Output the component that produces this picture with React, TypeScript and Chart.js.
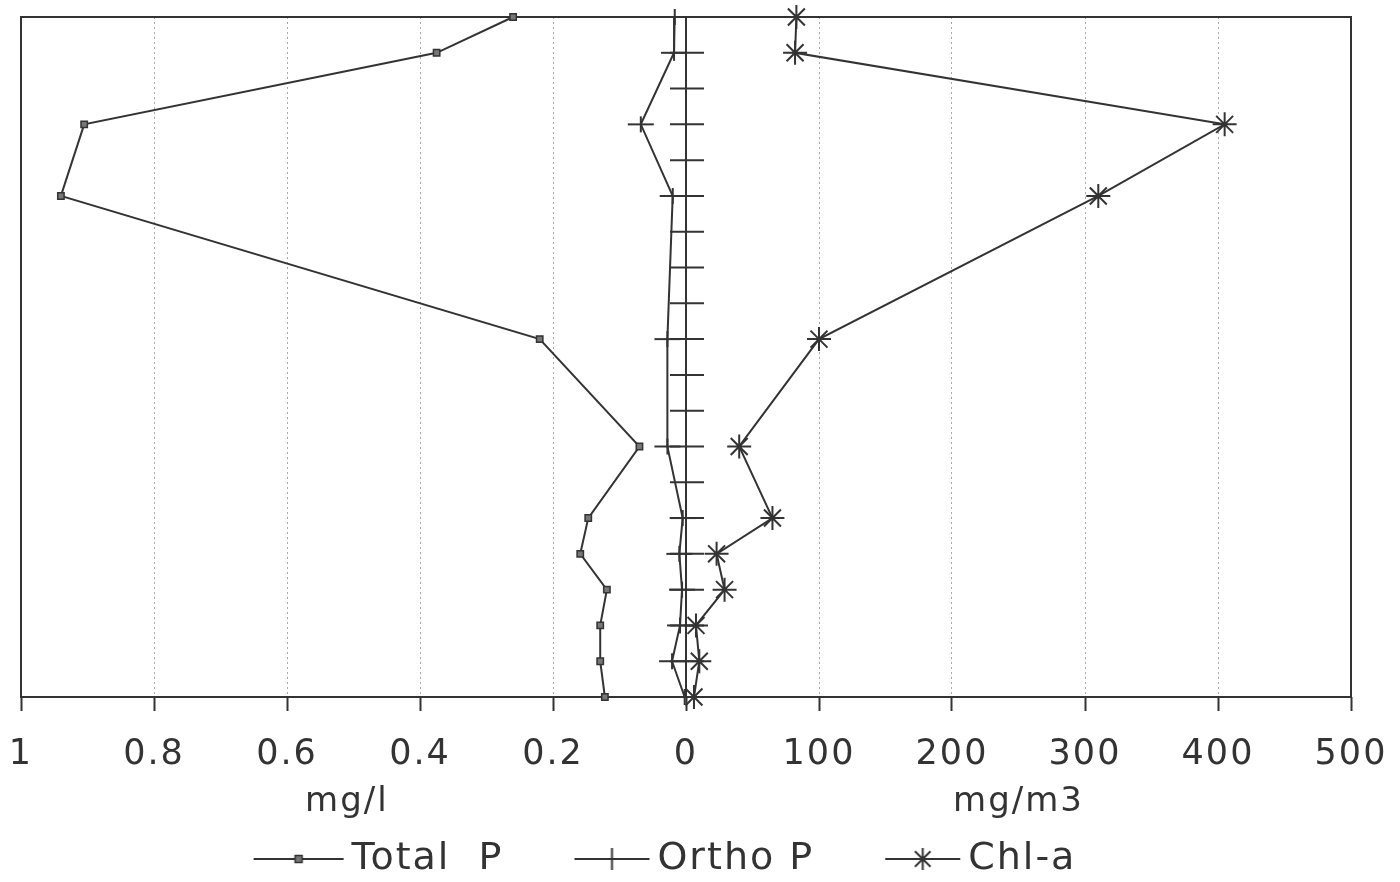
import React, { useEffect, useRef } from 'react';
import { Chart, registerables } from 'chart.js';

Chart.register(...registerables);

// ---- data (depth levels top -> bottom) ----
const depthLevels = [0, 1, 3, 5, 9, 12, 14, 15, 16, 17, 18, 19];
const totalP = [0.26, 0.375, 0.905, 0.94, 0.22, 0.07, 0.147, 0.159, 0.119, 0.129, 0.129, 0.122]; // mg/l
const orthoP = [0.017, 0.018, 0.068, 0.02, 0.028, 0.028, 0.005, 0.01, 0.006, 0.009, 0.021, 0.002]; // mg/l
const chlA = [83, 82, 405, 310, 100, 40, 65, 23, 29, 7.5, 10, 6]; // mg/m3

const axisLevels = [0, 1, 2, 3, 4, 5, 6, 7, 8, 9, 10, 11, 12, 13, 14, 15, 16, 17, 18, 19];
const xTickValues = [-500, -400, -300, -200, -100, 0, 100, 200, 300, 400, 500];
const xTickLabels = ['1', '0.8', '0.6', '0.4', '0.2', '0', '100', '200', '300', '400', '500'];
const unitTickValues = [-255, 250];
const unitLabels = ['mg/l', 'mg/m3'];
const seriesNames = ['Total  P', 'Ortho P', 'Chl-a'];
// left half of the shared axis: 1 mg/l corresponds to 500 axis units (drawn to the left)
const MG_L_TO_AXIS = 500;

const INK = '#333333';
const GRID = '#a8a8a8';
const FONT = '"DejaVu Sans", "Liberation Sans", sans-serif';

function makeIcon(w: number, h: number, draw: (g: CanvasRenderingContext2D) => void) {
  const c = document.createElement('canvas');
  c.width = w;
  c.height = h;
  const g = c.getContext('2d')!;
  g.strokeStyle = INK;
  g.fillStyle = '#777';
  g.lineWidth = 2;
  draw(g);
  return c;
}

export default function App() {
  const ref = useRef<HTMLCanvasElement>(null);

  useEffect(() => {
    document.body.style.margin = '0';
    const canvas = ref.current;
    if (!canvas) return;

    const orthoMarker = makeIcon(28, 18, (g) => {
      g.beginPath();
      g.moveTo(1, 9);
      g.lineTo(27, 9);
      g.moveTo(14, 1);
      g.lineTo(14, 17);
      g.stroke();
    });

    // legend icons: box width IW, image slightly wider so the line reaches close to the text
    const IW = 85;
    const OV = 12;
    const W = IW + 2 * OV;
    const IH = 30;
    const END = 108;
    const seg = (g: CanvasRenderingContext2D, start: number) => {
      g.beginPath();
      g.moveTo(start, IH / 2);
      g.lineTo(END, IH / 2);
      g.stroke();
      return (start + END) / 2;
    };
    const legendIcons = [
      makeIcon(W, IH, (g) => {
        const c = seg(g, 18);
        g.lineWidth = 1.5;
        g.fillRect(c - 3.5, IH / 2 - 3.5, 7, 7);
        g.strokeRect(c - 3.5, IH / 2 - 3.5, 7, 7);
      }),
      makeIcon(W, IH, (g) => {
        const c = seg(g, 33);
        g.beginPath();
        g.moveTo(c, 4);
        g.lineTo(c, IH - 4);
        g.stroke();
      }),
      makeIcon(W, IH, (g) => {
        const c = seg(g, 33);
        const r = 11;
        g.beginPath();
        for (let k = 0; k < 4; k++) {
          const a = (k * Math.PI) / 4;
          g.moveTo(c - r * Math.cos(a), IH / 2 - r * Math.sin(a));
          g.lineTo(c + r * Math.cos(a), IH / 2 + r * Math.sin(a));
        }
        g.stroke();
      }),
    ];

    const spacingPlugin = {
      id: 'letterSpacing',
      beforeUpdate(chart: any) {
        (chart.ctx as any).letterSpacing = '2px';
      },
      beforeDraw(chart: any) {
        (chart.ctx as any).letterSpacing = '2px';
      },
    };

    const framePlugin = {
      id: 'profileFrame',
      beforeDatasetsDraw(chart: any) {
        const { ctx, chartArea: a, scales } = chart;
        const x0 = scales.x.getPixelForValue(0);
        ctx.save();
        ctx.strokeStyle = INK;
        ctx.lineWidth = 2;
        ctx.strokeRect(a.left, a.top, a.right - a.left, a.bottom - a.top);
        ctx.beginPath();
        ctx.moveTo(x0, a.top);
        ctx.lineTo(x0, a.bottom);
        axisLevels.forEach((l) => {
          const y = scales.y.getPixelForValue(l);
          ctx.moveTo(x0 - 16, y);
          ctx.lineTo(x0 + 18, y);
        });
        ctx.stroke();
        ctx.restore();
      },
    };

    const isEdgeOrZero = (v: number) => v === -500 || v === 500 || v === 0;

    const chart = new Chart(canvas, {
      type: 'line',
      data: {
        datasets: [
          {
            label: seriesNames[0],
            data: depthLevels.map((d, i) => ({ x: -totalP[i] * MG_L_TO_AXIS, y: d })),
            borderColor: INK,
            borderWidth: 2,
            pointStyle: 'rect',
            pointRadius: 4.5,
            pointBackgroundColor: '#777',
            pointBorderColor: INK,
            pointBorderWidth: 1.5,
            tension: 0,
            fill: false,
            clip: false,
          },
          {
            label: seriesNames[1],
            data: depthLevels.map((d, i) => ({ x: -orthoP[i] * MG_L_TO_AXIS, y: d })),
            borderColor: INK,
            borderWidth: 2,
            pointStyle: orthoMarker as any,
            pointRadius: 9,
            tension: 0,
            fill: false,
            clip: false,
          },
          {
            label: seriesNames[2],
            data: depthLevels.map((d, i) => ({ x: chlA[i], y: d })),
            borderColor: INK,
            borderWidth: 2,
            pointStyle: 'star',
            pointRadius: 12,
            pointBorderColor: INK,
            pointBorderWidth: 2,
            tension: 0,
            fill: false,
            clip: false,
          },
        ] as any,
      },
      options: {
        animation: false,
        responsive: true,
        maintainAspectRatio: false,
        layout: { padding: { left: -27, right: 49, top: 17, bottom: -6 } },
        plugins: {
          tooltip: { enabled: false },
          legend: {
            position: 'bottom',
            labels: {
              usePointStyle: true,
              pointStyleWidth: IW,
              padding: 50,
              color: INK,
              font: { family: FONT, size: 38 },
              generateLabels: () =>
                seriesNames.map((t, i) => ({
                  text: t,
                  pointStyle: legendIcons[i] as any,
                  fillStyle: 'rgba(0,0,0,0)',
                  strokeStyle: 'rgba(0,0,0,0)',
                  lineWidth: 0,
                  hidden: false,
                  datasetIndex: i,
                  fontColor: INK,
                })),
            },
          },
        },
        scales: {
          x: {
            type: 'linear',
            position: 'bottom',
            min: -500,
            max: 500,
            weight: 0,
            afterBuildTicks: (s: any) => {
              s.ticks = xTickValues.map((v) => ({ value: v }));
            },
            afterFit: (s: any) => {
              s.height = 55;
            },
            ticks: {
              autoSkip: false,
              maxRotation: 0,
              mirror: true,
              padding: -79,
              color: INK,
              font: { family: FONT, size: 35 },
              callback: (v: any) => xTickLabels[xTickValues.indexOf(Number(v))],
            },
            grid: {
              color: (c: any) => (c.tick && isEdgeOrZero(c.tick.value) ? 'rgba(0,0,0,0)' : GRID),
              lineWidth: 1,
              tickLength: 14,
              tickColor: INK,
              tickWidth: 2,
            },
            border: { display: false, dash: [2, 3] },
          },
          xUnits: {
            type: 'linear',
            axis: 'x',
            position: 'bottom',
            min: -500,
            max: 500,
            weight: 1,
            afterBuildTicks: (s: any) => {
              s.ticks = unitTickValues.map((v) => ({ value: v }));
            },
            afterFit: (s: any) => {
              s.height = 38;
            },
            ticks: {
              autoSkip: false,
              maxRotation: 0,
              mirror: true,
              padding: -71,
              color: INK,
              font: { family: FONT, size: 34 },
              callback: (v: any) => unitLabels[unitTickValues.indexOf(Number(v))],
            },
            grid: { display: false },
            border: { display: false },
          },
          y: {
            type: 'linear',
            position: 'left',
            reverse: true,
            min: 0,
            max: 19,
            afterFit: (s: any) => {
              s.width = 48;
            },
            ticks: { display: false },
            grid: { display: false },
            border: { display: false },
          },
        },
      } as any,
      plugins: [spacingPlugin, framePlugin],
    });

    return () => chart.destroy();
  }, []);

  return (
    <div style={{ width: 1400, height: 882, position: 'relative' }}>
      <canvas ref={ref} />
    </div>
  );
}
